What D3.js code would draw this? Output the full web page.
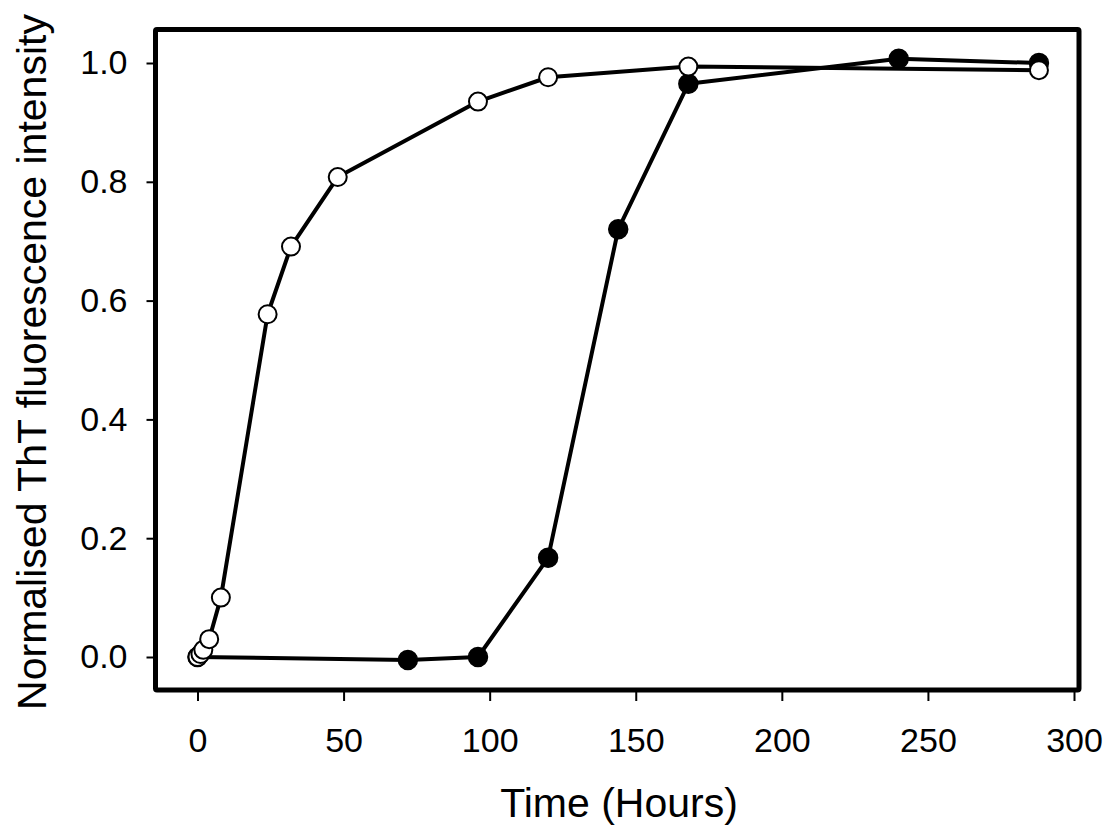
<!DOCTYPE html>
<meta charset="utf-8">
<script src="https://d3js.org/d3.v7.min.js"></script>
<style>
  body { margin: 0; background: #fff; }
  text { font-family: "Liberation Sans", Arial, sans-serif; }
</style>
<div id="chart"></div>
<script>
// filled circles series
var filledTime = [0, 72, 96, 120, 144, 168, 240, 288];
var filledValue = [0, -0.005, 0, 0.167, 0.72, 0.965, 1.007, 1.0];
// open circles series
var openTime = [0, 1, 2, 4, 8, 24, 32, 48, 96, 120, 168, 288];
var openValue = [0, 0.005, 0.012, 0.03, 0.1, 0.577, 0.691, 0.808, 0.935, 0.976, 0.994, 0.988];

var xTicks = [0, 50, 100, 150, 200, 250, 300];
var yTicks = [0, 0.2, 0.4, 0.6, 0.8, 1.0];

var W = 1110, H = 834;
var frame = {left: 155.5, top: 29.5, right: 1079, bottom: 690};

var x = d3.scaleLinear().domain([0, 300]).range([197.5, 1074]);
var y = d3.scaleLinear().domain([0, 1]).range([657, 63]);

var svg = d3.select("#chart").append("svg")
    .attr("width", W)
    .attr("height", H);

// axes on the frame edges
var xAxis = svg.append("g")
    .attr("transform", "translate(0," + frame.bottom + ")")
    .call(d3.axisBottom(x).tickValues(xTicks).tickSize(11).tickPadding(27)
      .tickFormat(d3.format("d")));
var yAxis = svg.append("g")
    .attr("transform", "translate(" + frame.left + ",0)")
    .call(d3.axisLeft(y).tickValues(yTicks).tickSize(9).tickPadding(19)
      .tickFormat(d3.format(".1f")));
[xAxis, yAxis].forEach(function (g) {
  g.select(".domain").remove();
  g.selectAll(".tick line").attr("stroke", "#000").attr("stroke-width", 2);
  g.selectAll(".tick text").attr("fill", "#000").style("font-size", "34px")
    .style("font-family", "'Liberation Sans', Arial, sans-serif");
});

svg.append("rect")
    .attr("x", frame.left)
    .attr("y", frame.top)
    .attr("width", frame.right - frame.left)
    .attr("height", frame.bottom - frame.top)
    .attr("fill", "none")
    .attr("stroke", "#000")
    .attr("stroke-width", 5)
    .attr("rx", 1.5);

var line = d3.line()
    .x(function (d) { return x(d[0]); })
    .y(function (d) { return y(d[1]); });

var filled = d3.zip(filledTime, filledValue);
var open = d3.zip(openTime, openValue);

[filled, open].forEach(function (data) {
  svg.append("path")
      .datum(data)
      .attr("d", line)
      .attr("fill", "none")
      .attr("stroke", "#000")
      .attr("stroke-width", 4)
      .attr("stroke-linejoin", "round");
});

svg.append("g").selectAll("circle")
  .data(filled)
  .enter().append("circle")
    .attr("cx", function (d) { return x(d[0]); })
    .attr("cy", function (d) { return y(d[1]); })
    .attr("r", 9.5)
    .attr("fill", "#000")
    .attr("stroke", "#000")
    .attr("stroke-width", 1.5);

svg.append("g").selectAll("circle")
  .data(open)
  .enter().append("circle")
    .attr("cx", function (d) { return x(d[0]); })
    .attr("cy", function (d) { return y(d[1]); })
    .attr("r", 9)
    .attr("fill", "#fff")
    .attr("stroke", "#000")
    .attr("stroke-width", 2);

// axis titles
svg.append("text")
    .attr("x", 619)
    .attr("y", 817)
    .attr("text-anchor", "middle")
    .style("font-size", "41px")
    .text("Time (Hours)");

svg.append("text")
    .attr("transform", "translate(46,362) rotate(-90)")
    .attr("text-anchor", "middle")
    .style("font-size", "41px")
    .text("Normalised ThT fluorescence intensity");
</script>
